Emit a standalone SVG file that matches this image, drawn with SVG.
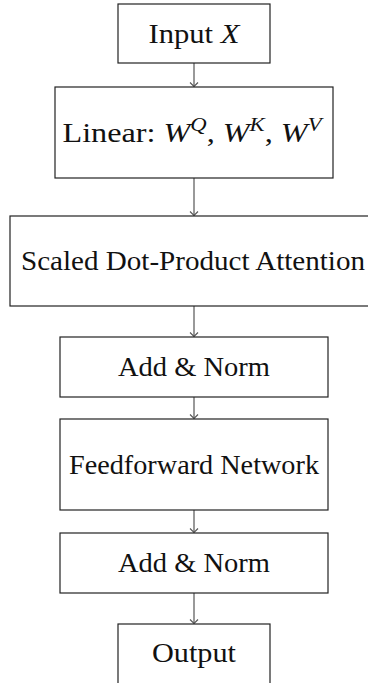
<svg xmlns="http://www.w3.org/2000/svg" width="368" height="683" viewBox="0 0 368 683">
<defs>
<style>
.box{fill:#fff;stroke:#222;stroke-width:1.2}
.c{stroke:#555;stroke-width:1.2;fill:none}
</style>
<marker id="ah" markerWidth="10" markerHeight="10" refX="5" refY="5" orient="auto" markerUnits="userSpaceOnUse">
<path d="M1,1 L5,5 L1,9" fill="none" stroke="#555" stroke-width="1.1"/>
</marker>
</defs>
<rect width="368" height="683" fill="#fff"/>
<g id="connectors">
<line class="c" x1="194" y1="63" x2="194" y2="86.5" marker-end="url(#ah)"/>
<line class="c" x1="194" y1="178" x2="194" y2="215.5" marker-end="url(#ah)"/>
<line class="c" x1="194" y1="306" x2="194" y2="336.5" marker-end="url(#ah)"/>
<line class="c" x1="194" y1="397" x2="194" y2="418.5" marker-end="url(#ah)"/>
<line class="c" x1="194" y1="510" x2="194" y2="532.5" marker-end="url(#ah)"/>
<line class="c" x1="194" y1="593" x2="194" y2="623.5" marker-end="url(#ah)"/>
</g>
<g font-family="'Liberation Serif', 'Times New Roman', serif" font-size="27" fill="#111" text-anchor="middle">
<g id="input">
<rect class="box" x="118" y="4" width="152" height="59"/>
<text x="194" y="43" textLength="91" lengthAdjust="spacingAndGlyphs">Input <tspan font-style="italic">X</tspan></text>
</g>
<g id="linear">
<rect class="box" x="55" y="87" width="278" height="91"/>
<text x="192" y="142" textLength="259" lengthAdjust="spacingAndGlyphs">Linear: <tspan font-style="italic">W</tspan><tspan font-style="italic" font-size="19" dy="-11">Q</tspan><tspan dy="11">, </tspan><tspan font-style="italic">W</tspan><tspan font-style="italic" font-size="19" dy="-11">K</tspan><tspan dy="11">, </tspan><tspan font-style="italic">W</tspan><tspan font-style="italic" font-size="19" dy="-11">V</tspan></text>
</g>
<g id="attention">
<rect class="box" x="10" y="216" width="368" height="90"/>
<text x="193" y="270" textLength="344" lengthAdjust="spacingAndGlyphs">Scaled Dot-Product Attention</text>
</g>
<g id="addnorm1">
<rect class="box" x="60" y="337" width="268" height="60"/>
<text x="194" y="376" textLength="152" lengthAdjust="spacingAndGlyphs">Add &amp; Norm</text>
</g>
<g id="ffn">
<rect class="box" x="60" y="419" width="268" height="91"/>
<text x="194" y="474" textLength="250" lengthAdjust="spacingAndGlyphs">Feedforward Network</text>
</g>
<g id="addnorm2">
<rect class="box" x="60" y="533" width="268" height="60"/>
<text x="194" y="572" textLength="152" lengthAdjust="spacingAndGlyphs">Add &amp; Norm</text>
</g>
<g id="output">
<rect class="box" x="118" y="624" width="152" height="62"/>
<text x="194" y="662" textLength="84" lengthAdjust="spacingAndGlyphs">Output</text>
</g>
</g>
</svg>
